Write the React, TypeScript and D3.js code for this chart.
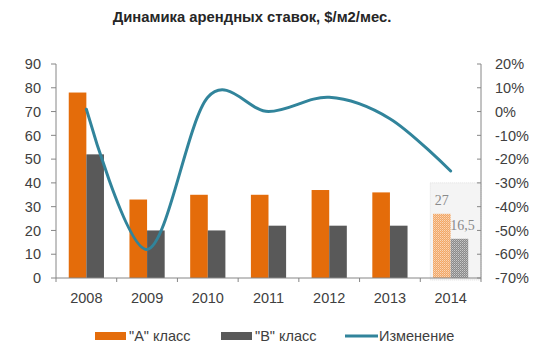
import { useEffect, useRef } from "react";
import * as d3 from "d3";

const years = ["2008", "2009", "2010", "2011", "2012", "2013", "2014"];
const classA = [78, 33, 35, 35, 37, 36, 27];
const classB = [52, 20, 20, 22, 22, 22, 16.5];
const change = [1, -58, 6, 0, 6, -3, -25];
const leftTicks = [0, 10, 20, 30, 40, 50, 60, 70, 80, 90];
const rightTicks = [20, 10, 0, -10, -20, -30, -40, -50, -60, -70];
const forecastYear = "2014";

const W = 560;
const H = 354;
const M = { top: 64, right: 79, bottom: 76, left: 56 };

const COLOR_A = "#e46c0a";
const COLOR_B = "#595959";
const COLOR_LINE = "#31849b";
const COLOR_AXIS = "#868686";
const COLOR_TEXT = "#404040";
const FONT = "'Liberation Sans', Arial, sans-serif";
const FS = "14.5px";

export default function App() {
  const svgRef = useRef<SVGSVGElement>(null);

  useEffect(() => {
    const svg = d3.select(svgRef.current);
    svg.selectAll("*").remove();

    const plotW = W - M.left - M.right;
    const plotH = H - M.top - M.bottom;

    // dotted fills for the forecast year
    const defs = svg.append("defs");
    [
      ["dotA", "#f2a766"],
      ["dotB", "#8a8a8a"],
    ].forEach(([id, c]) => {
      const p = defs
        .append("pattern")
        .attr("id", id)
        .attr("width", 2)
        .attr("height", 2)
        .attr("patternUnits", "userSpaceOnUse");
      p.append("rect").attr("width", 2).attr("height", 2).attr("fill", c);
      p.append("rect").attr("width", 1).attr("height", 1).attr("fill", "#fff").attr("opacity", 0.55);
      p.append("rect").attr("x", 1).attr("y", 1).attr("width", 1).attr("height", 1).attr("fill", "#fff").attr("opacity", 0.3);
    });

    svg
      .append("text")
      .attr("x", 252)
      .attr("y", 22)
      .attr("text-anchor", "middle")
      .attr("font-family", FONT)
      .attr("font-weight", "bold")
      .attr("font-size", "14.8px")
      .attr("fill", "#262626")
      .text("Динамика арендных ставок, $/м2/мес.");

    const g = svg.append("g").attr("transform", `translate(${M.left},${M.top})`);

    const x = d3.scaleBand<string>().domain(years).range([0, plotW]);
    const yL = d3.scaleLinear().domain([0, 90]).range([plotH, 0]);
    const yR = d3.scaleLinear().domain([-70, 20]).range([plotH, 0]);
    const barW = x.bandwidth() * 0.29;

    // forecast backdrop
    const fx = x(forecastYear) ?? 0;
    g.append("rect")
      .attr("x", fx + 10)
      .attr("y", yL(40))
      .attr("width", x.bandwidth() - 10)
      .attr("height", yL(0) - yL(40) + 2)
      .attr("fill", "#f4f4f4")
      .attr("stroke", "#e0e0e0")
      .attr("stroke-dasharray", "1,1");

    years.forEach((yr, i) => {
      const cx = (x(yr) ?? 0) + x.bandwidth() / 2;
      const fc = yr === forecastYear;
      g.append("rect")
        .attr("x", cx - barW)
        .attr("y", yL(classA[i]))
        .attr("width", barW)
        .attr("height", yL(0) - yL(classA[i]))
        .attr("fill", fc ? "url(#dotA)" : COLOR_A);
      g.append("rect")
        .attr("x", cx)
        .attr("y", yL(classB[i]))
        .attr("width", barW)
        .attr("height", yL(0) - yL(classB[i]))
        .attr("fill", fc ? "url(#dotB)" : COLOR_B);
      if (fc) {
        g.append("text")
          .attr("x", cx - barW / 2)
          .attr("y", yL(classA[i]) - 9)
          .attr("text-anchor", "middle")
          .attr("font-family", "'Liberation Serif', serif")
          .attr("font-size", "14px")
          .attr("fill", "#8a8a8a")
          .text(String(classA[i]));
        g.append("text")
          .attr("x", cx + barW / 2 + 3)
          .attr("y", yL(classB[i]) - 9)
          .attr("text-anchor", "middle")
          .attr("font-family", "'Liberation Serif', serif")
          .attr("font-size", "14px")
          .attr("fill", "#8a8a8a")
          .text(String(classB[i]).replace(".", ","));
      }
    });

    // change line, smoothed like Excel
    const line = d3
      .line<number>()
      .x((_, i) => (x(years[i]) ?? 0) + x.bandwidth() / 2)
      .y((d) => yR(d))
      .curve(d3.curveCardinal.tension(0));
    g.append("path")
      .datum(change)
      .attr("d", line)
      .attr("fill", "none")
      .attr("stroke", COLOR_LINE)
      .attr("stroke-width", 3)
      .attr("stroke-linecap", "round");

    // left axis
    g.append("line").attr("x1", 0).attr("x2", 0).attr("y1", 0).attr("y2", plotH).attr("stroke", COLOR_AXIS);
    leftTicks.forEach((t) => {
      g.append("line").attr("x1", -5).attr("x2", 0).attr("y1", yL(t)).attr("y2", yL(t)).attr("stroke", COLOR_AXIS);
      g.append("text")
        .attr("x", -15)
        .attr("y", yL(t))
        .attr("dy", "0.36em")
        .attr("text-anchor", "end")
        .attr("font-family", FONT)
        .attr("font-size", FS)
        .attr("fill", COLOR_TEXT)
        .text(t);
    });

    // right axis
    g.append("line").attr("x1", plotW).attr("x2", plotW).attr("y1", 0).attr("y2", plotH).attr("stroke", COLOR_AXIS);
    rightTicks.forEach((t) => {
      g.append("line").attr("x1", plotW - 4).attr("x2", plotW).attr("y1", yR(t)).attr("y2", yR(t)).attr("stroke", COLOR_AXIS);
      g.append("text")
        .attr("x", plotW + 14)
        .attr("y", yR(t))
        .attr("dy", "0.36em")
        .attr("text-anchor", "start")
        .attr("font-family", FONT)
        .attr("font-size", FS)
        .attr("fill", COLOR_TEXT)
        .text(`${t}%`);
    });

    // x axis
    g.append("line").attr("x1", 0).attr("x2", plotW).attr("y1", plotH).attr("y2", plotH).attr("stroke", COLOR_AXIS);
    years.forEach((yr) => {
      const x0 = x(yr) ?? 0;
      g.append("line").attr("x1", x0).attr("x2", x0).attr("y1", plotH).attr("y2", plotH + 4).attr("stroke", COLOR_AXIS);
      g.append("text")
        .attr("x", x0 + x.bandwidth() / 2)
        .attr("y", plotH + 25)
        .attr("text-anchor", "middle")
        .attr("font-family", FONT)
        .attr("font-size", FS)
        .attr("fill", COLOR_TEXT)
        .text(yr);
    });
    g.append("line").attr("x1", plotW).attr("x2", plotW).attr("y1", plotH).attr("y2", plotH + 4).attr("stroke", COLOR_AXIS);

    // legend
    const ly = 336;
    const legend = [
      { label: "\"A\" класс", color: COLOR_A, kind: "bar", x: 95 },
      { label: "\"B\" класс", color: COLOR_B, kind: "bar", x: 221 },
      { label: "Изменение", color: COLOR_LINE, kind: "line", x: 345 },
    ];
    legend.forEach((d) => {
      if (d.kind === "bar") {
        svg.append("rect").attr("x", d.x).attr("y", ly - 4).attr("width", 31).attr("height", 8).attr("fill", d.color);
      } else {
        svg.append("line").attr("x1", d.x).attr("x2", d.x + 33).attr("y1", ly).attr("y2", ly).attr("stroke", d.color).attr("stroke-width", 3);
      }
      svg
        .append("text")
        .attr("x", d.x + 34)
        .attr("y", ly)
        .attr("dy", "0.36em")
        .attr("font-family", FONT)
        .attr("font-size", FS)
        .attr("fill", COLOR_TEXT)
        .text(d.label);
    });
  }, []);

  return (
    <div style={{ position: "fixed", left: 0, top: 0, background: "#fff" }}>
      <svg ref={svgRef} width={W} height={H} style={{ display: "block" }} />
    </div>
  );
}
